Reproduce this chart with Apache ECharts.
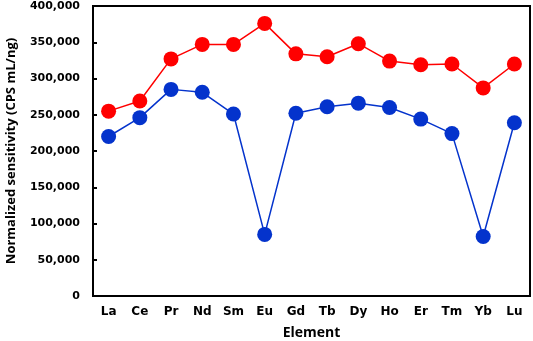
<!DOCTYPE html>
<html>
<head>
<meta charset="utf-8">
<script src="https://cdn.jsdelivr.net/npm/echarts@6/dist/echarts.min.js"></script>
<style>html,body{margin:0;padding:0;background:#fff}#c{width:533px;height:341px}</style>
</head>
<body>
<div id="c"></div>
<script>
var elements = ['La','Ce','Pr','Nd','Sm','Eu','Gd','Tb','Dy','Ho','Er','Tm','Yb','Lu'];
var redSeries = [255000,269000,327000,347000,347000,376000,334000,330000,348000,324000,319000,320000,287000,320000];
var blueSeries = [220000,246000,285000,281000,251000,85000,252000,261000,266000,260000,244000,224000,82000,239000];
var yTicks = [0,50000,100000,150000,200000,250000,300000,350000,400000];

var chart = echarts.init(document.getElementById('c'));
var tickFont = 'DejaVu Sans';
var nameFont = 'Open Sans';
chart.setOption({
  animation: false,
  grid: {left: 93, right: 3, top: 6, bottom: 45, show: true, borderColor: '#000', borderWidth: 2,
         containLabel: false, outerBoundsMode: 'none'},
  xAxis: {
    type: 'category', data: elements, boundaryGap: true,
    name: 'Element', nameLocation: 'middle', nameGap: 30,
    nameTextStyle: {fontFamily: nameFont, fontWeight: 'bold', fontSize: 14, color: '#000'},
    axisLine: {lineStyle: {color: '#000', width: 2}},
    axisTick: {inside: true, length: 4, lineStyle: {color: '#000', width: 2}},
    axisLabel: {fontFamily: tickFont, fontWeight: 'bold', fontSize: 12, color: '#000', margin: 10, interval: 0},
    splitLine: {show: false}
  },
  yAxis: {
    type: 'value', min: yTicks[0], max: yTicks[yTicks.length-1], interval: 50000,
    name: 'Normalized sensitivity (CPS mL/ng)', nameLocation: 'middle', nameGap: 75,
    nameTextStyle: {fontFamily: nameFont, fontWeight: 'bold', fontSize: 13, color: '#000'},
    axisLine: {show: true, lineStyle: {color: '#000', width: 2}},
    axisTick: {show: true, inside: true, length: 4, lineStyle: {color: '#000', width: 2}},
    axisLabel: {fontFamily: tickFont, fontWeight: 'bold', fontSize: 11, color: '#000', margin: 13,
      formatter: function(v){ return v.toLocaleString('en-US'); }},
    splitLine: {show: false}
  },
  series: [
    {type: 'line', data: redSeries, symbol: 'circle', symbolSize: 15,
     itemStyle: {color: '#ff0000'}, lineStyle: {color: '#ff0000', width: 1.5}},
    {type: 'line', data: blueSeries, symbol: 'circle', symbolSize: 15,
     itemStyle: {color: '#0433cc'}, lineStyle: {color: '#0433cc', width: 1.5}}
  ]
});
</script>
</body>
</html>
